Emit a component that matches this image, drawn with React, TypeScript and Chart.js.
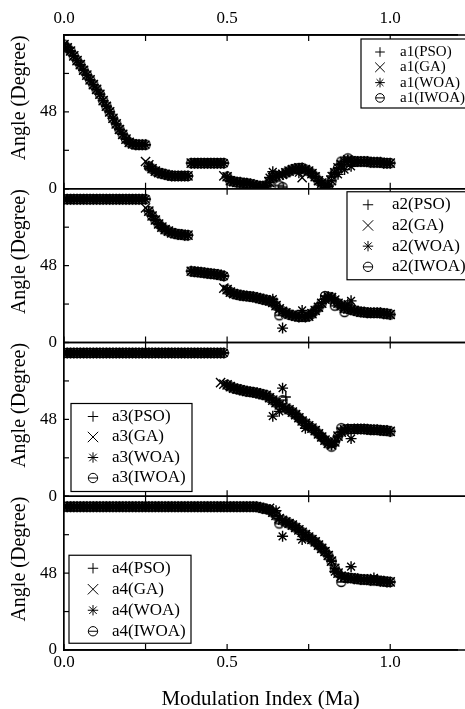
import React, { useEffect, useRef } from 'react';
import { Chart, registerables } from 'chart.js';

Chart.register(...registerables);

const FONT = "'Liberation Serif', 'Times New Roman', serif";

// ---------------- data ----------------
const modulationIndex = [
  0.00, 0.01, 0.02, 0.03, 0.04, 0.05, 0.06, 0.07, 0.08, 0.09,
  0.10, 0.11, 0.12, 0.13, 0.14, 0.15, 0.16, 0.17, 0.18, 0.19,
  0.20, 0.21, 0.22, 0.23, 0.24, 0.25, 0.26, 0.27, 0.28, 0.29,
  0.30, 0.31, 0.32, 0.33, 0.34, 0.35, 0.36, 0.37, 0.38, 0.39,
  0.40, 0.41, 0.42, 0.43, 0.44, 0.45, 0.46, 0.47, 0.48, 0.49,
  0.50, 0.51, 0.52, 0.53, 0.54, 0.55, 0.56, 0.57, 0.58, 0.59,
  0.60, 0.61, 0.62, 0.63, 0.64, 0.65, 0.66, 0.67, 0.68, 0.69,
  0.70, 0.71, 0.72, 0.73, 0.74, 0.75, 0.76, 0.77, 0.78, 0.79,
  0.80, 0.81, 0.82, 0.83, 0.84, 0.85, 0.86, 0.87, 0.88, 0.89,
  0.90, 0.91, 0.92, 0.93, 0.94, 0.95, 0.96, 0.97, 0.98, 0.99,
  1.00,
];

const algorithms = ['PSO', 'GA', 'WOA', 'IWOA'];
const angleNames = ['a1', 'a2', 'a3', 'a4'];

const xTickValues = [0, 0.5, 1.0];
const xTickText = ['0.0', '0.5', '1.0'];
const yTickValues = [0, 48];
const yTickText = ['0', '48'];

// common trajectory
const a1Base = [
  90, 88, 86, 83, 80, 77.5, 74, 71, 68, 65,
  62, 59, 55, 51.5, 48, 44, 40.5, 37, 34, 31,
  29, 28, 27.5, 27.5, 27.5, 27.5, 14, 12.5, 11, 10,
  9.5, 9, 8.5, 8, 8, 8, 8, 8, 8, 16,
  16, 16, 16, 16, 16, 16, 16, 16, 16, 16,
  7.5, 5, 4.5, 4, 4, 3.5, 3.5, 3, 2.5, 2,
  1.5, 1.5, 2, 4, 7, 8, 8.5, 9, 10, 11,
  12, 12.5, 13, 13, 12, 11, 9.5, 7.5, 5, 3.5,
  2, 1.5, 5, 10, 13, 15, 17, 18, 17.5, 17,
  17, 17, 17, 17, 16.5, 16.5, 16.5, 16.5, 16, 16,
  16,
];
const a2Base = [
  89.5, 89.5, 89.5, 89.5, 89.5, 89.5, 89.5, 89.5, 89.5, 89.5,
  89.5, 89.5, 89.5, 89.5, 89.5, 89.5, 89.5, 89.5, 89.5, 89.5,
  89.5, 89.5, 89.5, 89.5, 89.5, 89.5, 82, 79, 76.5, 74,
  72, 70.5, 69.5, 68.5, 68, 67.5, 67.5, 67, 67, 44.5,
  44.2, 44, 43.8, 43.5, 43.2, 43, 42.8, 42.5, 42, 41.5,
  33, 31.5, 30.5, 30, 29.5, 29.2, 29, 28.7, 28.5, 28,
  27.5, 27, 26.5, 26, 25, 23, 21, 19.5, 18.5, 17.5,
  17, 16.5, 16, 16, 16, 16.5, 18, 20, 22, 24.5,
  27, 28.5, 28, 26.5, 24.5, 23, 21.5, 21, 20.5, 20,
  19.5, 19, 19, 18.5, 18.5, 18.5, 18.5, 18.5, 18, 18,
  17.5,
];
const a3Base = [
  89.5, 89.5, 89.5, 89.5, 89.5, 89.5, 89.5, 89.5, 89.5, 89.5,
  89.5, 89.5, 89.5, 89.5, 89.5, 89.5, 89.5, 89.5, 89.5, 89.5,
  89.5, 89.5, 89.5, 89.5, 89.5, 89.5, 89.5, 89.5, 89.5, 89.5,
  89.5, 89.5, 89.5, 89.5, 89.5, 89.5, 89.5, 89.5, 89.5, 89.5,
  89.5, 89.5, 89.5, 89.5, 89.5, 89.5, 89.5, 89.5, 89.5, 89.5,
  69.5, 68.5, 67.5, 67, 66.5, 66, 65.5, 65.2, 65, 64.5,
  64, 63.5, 63, 61.5, 60, 58.5, 57, 56, 55, 54,
  52.5, 51, 49, 47, 45.5, 44, 42.5, 41, 39, 37,
  35, 33, 32, 34, 37.5, 40, 41.5, 42, 42, 42,
  42, 42, 42, 41.8, 41.5, 41.5, 41.5, 41.2, 41, 41,
  40.5,
];
const a4Base = [
  89.5, 89.5, 89.5, 89.5, 89.5, 89.5, 89.5, 89.5, 89.5, 89.5,
  89.5, 89.5, 89.5, 89.5, 89.5, 89.5, 89.5, 89.5, 89.5, 89.5,
  89.5, 89.5, 89.5, 89.5, 89.5, 89.5, 89.5, 89.5, 89.5, 89.5,
  89.5, 89.5, 89.5, 89.5, 89.5, 89.5, 89.5, 89.5, 89.5, 89.5,
  89.5, 89.5, 89.5, 89.5, 89.5, 89.5, 89.5, 89.5, 89.5, 89.5,
  89.5, 89.5, 89.5, 89.5, 89.5, 89.5, 89.5, 89.5, 89.5, 89.5,
  89, 88.5, 88, 87.5, 86, 84, 82, 81, 80, 79,
  78, 76.5, 75, 73.5, 72, 70.5, 69, 67.5, 65.5, 63.5,
  61.5, 59, 55.5, 51, 48, 46, 45.5, 45, 45, 44.5,
  44.5, 44, 44, 44, 43.5, 43.5, 43.5, 43, 43, 42.5,
  42.5,
];

// per-algorithm departures from the common trajectory: [Ma, angle]
const a1PSO = [[0.80, 1]];
const a1GA = [[0.25, 17], [0.26, 15], [0.49, 8], [0.73, 7]];
const a1WOA = [[0.63, 7], [0.64, 10.6], [0.72, 10], [0.82, 8], [0.84, 9], [0.86, 12], [0.88, 14]];
const a1IWOA = [[0.66, 2], [0.67, 1], [0.81, 0.5], [0.85, 17], [0.87, 19]];

const a2PSO: number[][] = [];
const a2GA = [[0.25, 84], [0.49, 34]];
const a2WOA = [[0.64, 27], [0.67, 9], [0.73, 20], [0.87, 24], [0.88, 26]];
const a2IWOA = [[0.66, 17], [0.80, 29], [0.83, 23], [0.86, 19]];

const a3PSO = [[0.68, 62]];
const a3GA = [[0.48, 71], [0.49, 70]];
const a3WOA = [[0.64, 50], [0.66, 53], [0.67, 67.5], [0.74, 42.5], [0.88, 36]];
const a3IWOA = [[0.67, 60], [0.82, 31], [0.85, 42.5]];

const a4PSO: number[][] = [];
const a4GA = [[0.63, 88.5]];
const a4WOA = [[0.65, 87], [0.67, 71], [0.73, 69], [0.83, 49], [0.88, 52], [0.95, 45]];
const a4IWOA = [[0.66, 79], [0.85, 42.5]];

const panelBases = [a1Base, a2Base, a3Base, a4Base];
const panelOverrides = [
  [a1PSO, a1GA, a1WOA, a1IWOA],
  [a2PSO, a2GA, a2WOA, a2IWOA],
  [a3PSO, a3GA, a3WOA, a3IWOA],
  [a4PSO, a4GA, a4WOA, a4IWOA],
];

// ---------------- styling ----------------
const panelAxisIds = ['y1', 'y2', 'y3', 'y4'];
const legendLayouts = [
  { left: 297, top: 4, width: 130, height: 69, font: 15, row0: 13, gap: 15.3, sym: 19, text: 39, s: 4.8 },
  { left: 283, top: 3, width: 140, height: 88, font: 17, row0: 13, gap: 20.7, sym: 21, text: 45, s: 5.2 },
  { left: 7, top: 61, width: 121, height: 88, font: 17, row0: 13, gap: 20.5, sym: 22, text: 41, s: 5.2 },
  { left: 5, top: 59, width: 122, height: 88, font: 17, row0: 13, gap: 21, sym: 24, text: 43, s: 5.2 },
];

function buildSeries(base: number[], over: number[][]) {
  return modulationIndex.map((x, i) => {
    const o = over.find((p) => Math.abs(p[0] - x) < 1e-6);
    return { x, y: o ? o[1] : base[i] };
  });
}

function makeThetaMarker(r: number, lw: number) {
  const size = Math.ceil(2 * r + 2 * lw + 2);
  const c = document.createElement('canvas');
  c.width = size;
  c.height = size;
  const g = c.getContext('2d')!;
  g.strokeStyle = '#000';
  g.lineWidth = lw;
  const m = size / 2;
  g.beginPath();
  g.arc(m, m, r, 0, Math.PI * 2);
  g.moveTo(m - r, m);
  g.lineTo(m + r, m);
  g.stroke();
  return c;
}

function drawSymbol(ctx: CanvasRenderingContext2D, kind: number, x: number, y: number, s: number) {
  ctx.beginPath();
  if (kind === 0) {
    ctx.moveTo(x - s, y); ctx.lineTo(x + s, y);
    ctx.moveTo(x, y - s); ctx.lineTo(x, y + s);
  } else if (kind === 1) {
    ctx.moveTo(x - s, y - s); ctx.lineTo(x + s, y + s);
    ctx.moveTo(x + s, y - s); ctx.lineTo(x - s, y + s);
  } else if (kind === 2) {
    const d = s * 0.72;
    ctx.moveTo(x - s, y); ctx.lineTo(x + s, y);
    ctx.moveTo(x, y - s); ctx.lineTo(x, y + s);
    ctx.moveTo(x - d, y - d); ctx.lineTo(x + d, y + d);
    ctx.moveTo(x + d, y - d); ctx.lineTo(x - d, y + d);
  } else {
    const r = s * 0.9;
    ctx.arc(x, y, r, 0, Math.PI * 2);
    ctx.moveTo(x - r, y); ctx.lineTo(x + r, y);
  }
  ctx.stroke();
}

const framePlugin = {
  id: 'panelFrame',
  afterDatasetsDraw(chart: any) {
    const ctx: CanvasRenderingContext2D = chart.ctx;
    const ca = chart.chartArea;
    const xs = chart.scales.x;
    ctx.save();
    ctx.strokeStyle = '#000';
    ctx.fillStyle = '#000';
    panelAxisIds.forEach((id, p) => {
      const ys = chart.scales[id];
      ctx.lineWidth = 1.7;
      [ys.top, ys.bottom].forEach((yy: number) => {
        ctx.beginPath();
        ctx.moveTo(ca.left, yy);
        ctx.lineTo(chart.width, yy);
        ctx.stroke();
      });
      ctx.lineWidth = 1.2;
      xs.ticks.forEach((t: any) => {
        const px = xs.getPixelForValue(t.value);
        ctx.beginPath();
        ctx.moveTo(px, ys.top); ctx.lineTo(px, ys.top + 6);
        ctx.moveTo(px, ys.bottom); ctx.lineTo(px, ys.bottom - 6);
        ctx.stroke();
      });
      ys.ticks.forEach((t: any) => {
        const py = ys.getPixelForValue(t.value);
        ctx.beginPath();
        ctx.moveTo(ca.left, py); ctx.lineTo(ca.left + 5, py);
        ctx.stroke();
      });
      ctx.save();
      ctx.translate(ca.left - 44, (ys.top + ys.bottom) / 2 - 14);
      ctx.rotate(-Math.PI / 2);
      ctx.font = `20px ${FONT}`;
      ctx.textAlign = 'center';
      ctx.textBaseline = 'middle';
      ctx.fillText('Angle (Degree)', 0, 0);
      ctx.restore();
      const L = legendLayouts[p];
      const bx = ca.left + L.left;
      const by = ys.top + L.top;
      ctx.fillStyle = '#fff';
      ctx.fillRect(bx, by, L.width, L.height);
      ctx.lineWidth = 1.2;
      ctx.strokeRect(bx, by, L.width, L.height);
      ctx.fillStyle = '#000';
      ctx.font = `${L.font}px ${FONT}`;
      ctx.textAlign = 'left';
      ctx.textBaseline = 'middle';
      algorithms.forEach((alg, k) => {
        const ry = by + L.row0 + k * L.gap;
        ctx.lineWidth = 1;
        drawSymbol(ctx, k, bx + L.sym, ry, L.s);
        ctx.fillText(`${angleNames[p]}(${alg})`, bx + L.text, ry);
      });
    });
    ctx.restore();
  },
};

export default function App() {
  const ref = useRef<HTMLCanvasElement>(null);
  useEffect(() => {
    if (!ref.current) return;
    Chart.defaults.font.family = FONT;
    Chart.defaults.color = '#000';
    const theta = makeThetaMarker(4.5, 1.3);
    const styles: any[] = ['cross', 'crossRot', 'star', theta];
    const radii = [5, 6.5, 5.5, 4.5];

    const datasets: any[] = [];
    panelBases.forEach((base, p) => {
      algorithms.forEach((alg, k) => {
        datasets.push({
          label: `${angleNames[p]}(${alg})`,
          data: buildSeries(base, panelOverrides[p][k]),
          yAxisID: panelAxisIds[p],
          xAxisID: 'x',
          showLine: false,
          pointStyle: styles[k],
          pointRadius: radii[k],
          pointBorderColor: '#000',
          pointBackgroundColor: 'rgba(0,0,0,0)',
          pointBorderWidth: 1.4,
          borderColor: '#000',
          backgroundColor: 'rgba(0,0,0,0)',
        });
      });
    });

    const xTickCb = (v: any) => {
      const i = xTickValues.findIndex((t) => Math.abs(t - Number(v)) < 1e-9);
      return i >= 0 ? xTickText[i] : '';
    };
    const yTickCb = (v: any) => {
      const i = yTickValues.findIndex((t) => Math.abs(t - Number(v)) < 1e-9);
      return i >= 0 ? yTickText[i] : '';
    };

    const yScale = () => ({
      type: 'linear',
      position: 'left',
      stack: 'panels',
      stackWeight: 1,
      min: 0,
      max: 96,
      afterFit: (s: any) => { s.width = 64; },
      grid: { display: false, drawTicks: false },
      border: { display: true, color: '#000', width: 1.7 },
      ticks: {
        stepSize: 24,
        autoSkip: false,
        padding: 7,
        color: '#000',
        font: { family: FONT, size: 17 },
        callback: yTickCb,
      },
      title: { display: false },
    });

    const chart = new Chart(ref.current, {
      type: 'scatter',
      data: { datasets },
      options: {
        responsive: false,
        animation: false,
        events: [],
        layout: { padding: { top: 2.6, right: -8, bottom: 0, left: 0 } },
        plugins: { legend: { display: false }, tooltip: { enabled: false } },
        scales: {
          x: {
            type: 'linear',
            position: 'bottom',
            min: 0,
            max: 1.205,
            grid: { display: false, drawTicks: false },
            border: { display: true, color: '#000', width: 1.7 },
            ticks: {
              stepSize: 0.25,
              includeBounds: false,
              autoSkip: false,
              maxRotation: 0,
              padding: 2,
              color: '#000',
              font: { family: FONT, size: 17 },
              callback: xTickCb,
            },
            title: {
              display: true,
              text: 'Modulation Index (Ma)',
              color: '#000',
              font: { family: FONT, size: 21 },
              padding: { top: 12.4, bottom: -3 },
            },
          },
          x2: {
            type: 'linear',
            position: 'top',
            min: 0,
            max: 1.205,
            grid: { display: false, drawTicks: false },
            border: { display: true, color: '#000', width: 1.7 },
            ticks: {
              stepSize: 0.25,
              includeBounds: false,
              autoSkip: false,
              maxRotation: 0,
              padding: 6,
              color: '#000',
              font: { family: FONT, size: 17 },
              callback: xTickCb,
            },
          },
          y4: yScale(),
          y3: yScale(),
          y2: yScale(),
          y1: yScale(),
        } as any,
      },
      plugins: [framePlugin],
    } as any);
    return () => chart.destroy();
  }, []);

  return (
    <div style={{ position: 'fixed', left: 0, top: 0, width: 465, height: 709, background: '#fff' }}>
      <canvas ref={ref} width={465} height={709} style={{ display: 'block' }} />
    </div>
  );
}
